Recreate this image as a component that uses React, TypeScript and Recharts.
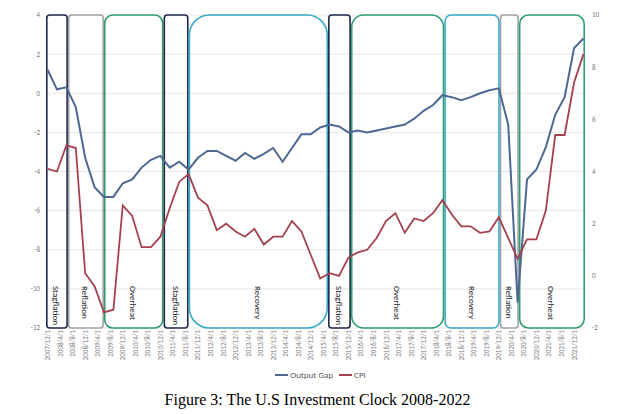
import { CartesianGrid, Legend, Line, LineChart, ReferenceArea, XAxis, YAxis } from "recharts";

// quarterly observations
const quarters = [
  "2007/12/1", "2008/3/1", "2008/6/1", "2008/9/1", "2008/12/1", "2009/3/1", "2009/6/1", "2009/9/1",
  "2009/12/1", "2010/3/1", "2010/6/1", "2010/9/1", "2010/12/1", "2011/3/1", "2011/6/1", "2011/9/1",
  "2011/12/1", "2012/3/1", "2012/6/1", "2012/9/1", "2012/12/1", "2013/3/1", "2013/6/1", "2013/9/1",
  "2013/12/1", "2014/3/1", "2014/6/1", "2014/9/1", "2014/12/1", "2015/3/1", "2015/6/1", "2015/9/1",
  "2015/12/1", "2016/3/1", "2016/6/1", "2016/9/1", "2016/12/1", "2017/3/1", "2017/6/1", "2017/9/1",
  "2017/12/1", "2018/3/1", "2018/6/1", "2018/9/1", "2018/12/1", "2019/3/1", "2019/6/1", "2019/9/1",
  "2019/12/1", "2020/3/1", "2020/6/1", "2020/9/1", "2020/12/1", "2021/3/1", "2021/6/1", "2021/9/1",
  "2021/12/1", "2022/3/1"
];

const outputGap = [
  1.2, 0.2, 0.3, -0.7, -3.3, -4.8, -5.3, -5.3, -4.6, -4.4, -3.8, -3.4, -3.2, -3.8, -3.5, -3.9,
  -3.3, -2.95, -2.95, -3.2, -3.45, -3.05, -3.35, -3.1, -2.8, -3.5, -2.8, -2.1, -2.1, -1.75, -1.6, -1.7,
  -2.0, -1.9, -2.0, -1.9, -1.8, -1.7, -1.6, -1.3, -0.9, -0.6, -0.1, -0.2, -0.35, -0.2, 0.0, 0.15,
  0.25, -1.6, -10.7, -4.4, -3.9, -2.75, -1.1, -0.2, 2.3, 2.8
];

const cpi = [
  4.1, 4.0, 5.0, 4.9, 0.1, -0.4, -1.4, -1.3, 2.7, 2.3, 1.1, 1.1, 1.5, 2.6, 3.6, 3.9,
  3.0, 2.7, 1.75, 2.0, 1.7, 1.5, 1.8, 1.2, 1.5, 1.5, 2.1, 1.7, 0.8, -0.1, 0.1, 0.0,
  0.7, 0.9, 1.0, 1.45, 2.1, 2.4, 1.65, 2.2, 2.1, 2.4, 2.9, 2.35, 1.9, 1.9, 1.65, 1.7,
  2.25, 1.45, 0.65, 1.4, 1.4, 2.5, 5.4, 5.4, 7.4, 8.5
];

// axis labels every four months
const tickLabels = [
  "2007/12/1", "2008/4/1", "2008/8/1", "2008/12/1", "2009/4/1", "2009/8/1", "2009/12/1", "2010/4/1",
  "2010/8/1", "2010/12/1", "2011/4/1", "2011/8/1", "2011/12/1", "2012/4/1", "2012/8/1", "2012/12/1",
  "2013/4/1", "2013/8/1", "2013/12/1", "2014/4/1", "2014/8/1", "2014/12/1", "2015/4/1", "2015/8/1",
  "2015/12/1", "2016/4/1", "2016/8/1", "2016/12/1", "2017/4/1", "2017/8/1", "2017/12/1", "2018/4/1",
  "2018/8/1", "2018/12/1", "2019/4/1", "2019/8/1", "2019/12/1", "2020/4/1", "2020/8/1", "2020/12/1",
  "2021/4/1", "2021/8/1", "2021/12/1"
];

const gapTicks = [-12, -10, -8, -6, -4, -2, 0, 2, 4];
const cpiTicks = [-2, 0, 2, 4, 6, 8, 10];

// clock phases, in months counted from 2007/12
const phaseNames = ["Stagflation", "Reflation", "Overheat", "Stagflation", "Recovery", "Stagflation", "Overheat", "Recovery", "Reflation", "Overheat"];
const phaseStart = [-0.5, 6.5, 18, 37, 45, 89.5, 96.8, 126.6, 144.3, 150.4];
const phaseEnd = [6.5, 18, 37, 45, 89.5, 96.8, 126.6, 144.3, 150.4, 171.5];

const phaseColor: Record<string, string> = {
  Stagflation: "#1f2750",
  Reflation: "#a2a2aa",
  Overheat: "#2f9d6c",
  Recovery: "#37abc6"
};
const phaseRadius = [3, 3, 8, 3, 20, 3, 12, 6, 3, 9];

const FONT = "Carlito, Lato, 'Open Sans', sans-serif";

function monthOf(d: string) {
  const [y, m] = d.split("/").map(Number);
  return (y - 2007) * 12 + m - 12;
}

const data = quarters.map((q, i) => ({ m: monthOf(q), date: q, gap: outputGap[i], cpi: cpi[i] }));
const tickMonths = tickLabels.map(monthOf);
const labelByMonth: Record<number, string> = {};
tickLabels.forEach((t) => (labelByMonth[monthOf(t)] = t));

function DateTick({ x, y, payload }: any) {
  return (
    <text
      transform={`translate(${x},${y}) rotate(-90)`}
      textAnchor="end"
      dominantBaseline="central"
      fontSize={7}
      fill="#808080"
      fontFamily={FONT}
    >
      {labelByMonth[payload.value]}
    </text>
  );
}

function phaseShape(i: number) {
  return (p: any) => {
    const { x, y, width, height } = p;
    const cx = x + width / 2;
    const ty = y + height - 42;
    const color = phaseColor[phaseNames[i]];
    return (
      <g>
        <rect
          x={x + 0.8}
          y={y}
          width={width - 1.6}
          height={height}
          rx={phaseRadius[i]}
          ry={phaseRadius[i]}
          fill="none"
          stroke={color}
          strokeWidth={1.6}
        />
        <text
          x={cx}
          y={ty}
          transform={`rotate(90, ${cx}, ${ty})`}
          dominantBaseline="central"
          fontSize={9}
          fill="#222"
          fontFamily={FONT}
        >
          {phaseNames[i]}
        </text>
      </g>
    );
  };
}

function LegendRow() {
  const item = (color: string, text: string) => (
    <span style={{ display: "inline-flex", alignItems: "center", marginRight: 6 }}>
      <span style={{ width: 13, height: 2, background: color, marginRight: 2 }} />
      <span>{text}</span>
    </span>
  );
  return (
    <div style={{ display: "flex", justifyContent: "center", paddingLeft: 12, fontSize: 9, color: "#595959", fontFamily: FONT }}>
      {item("#4f6892", "Output Gap")}
      {item("#a3414f", "CPI")}
    </div>
  );
}

export default function App() {
  return (
    <div style={{ width: 619 }}>
      <LineChart width={619} height={382} data={data} margin={{ top: 7, right: 8, bottom: 22, left: 0 }}>
        <CartesianGrid yAxisId="left" vertical={false} stroke="#e6e6e6" />
        <XAxis
          type="number"
          dataKey="m"
          domain={[-0.5, 171.5]}
          ticks={tickMonths}
          interval={0}
          axisLine={false}
          tickLine={false}
          tickSize={2}
          tickMargin={0}
          height={40}
          tick={<DateTick />}
        />
        <YAxis
          yAxisId="left"
          domain={[-12, 4]}
          ticks={gapTicks}
          width={38}
          axisLine={false}
          tickLine={false}
          tickSize={4}
          tickMargin={2}
          tick={{ fontSize: 7, fill: "#7a7a7a", fontFamily: FONT }}
        />
        <YAxis
          yAxisId="right"
          orientation="right"
          domain={[-2, 10]}
          ticks={cpiTicks}
          width={34}
          axisLine={false}
          tickLine={false}
          tickSize={5}
          tickMargin={2}
          tick={{ fontSize: 7, fill: "#7a7a7a", fontFamily: FONT }}
        />
        {phaseNames.map((n, i) => (
          <ReferenceArea
            key={i}
            yAxisId="left"
            x1={phaseStart[i]}
            x2={phaseEnd[i]}
            y1={-12}
            y2={4}
            ifOverflow="visible"
            shape={phaseShape(i)}
          />
        ))}
        <Line yAxisId="left" type="linear" dataKey="gap" name="Output Gap" stroke="#4f6892" strokeWidth={2} dot={false} isAnimationActive={false} />
        <Line yAxisId="right" type="linear" dataKey="cpi" name="CPI" stroke="#a3414f" strokeWidth={1.8} dot={false} isAnimationActive={false} />
        <Legend
          verticalAlign="middle"
          align="center"
          layout="horizontal"
          wrapperStyle={{ top: 361, left: 0, width: 619 }}
          content={() => <LegendRow />}
        />
      </LineChart>
      <div style={{ textAlign: "center", fontFamily: "'Liberation Serif', serif", fontSize: 16, lineHeight: "20px" }}>
        Figure 3: The U.S Investment Clock 2008-2022
      </div>
    </div>
  );
}
